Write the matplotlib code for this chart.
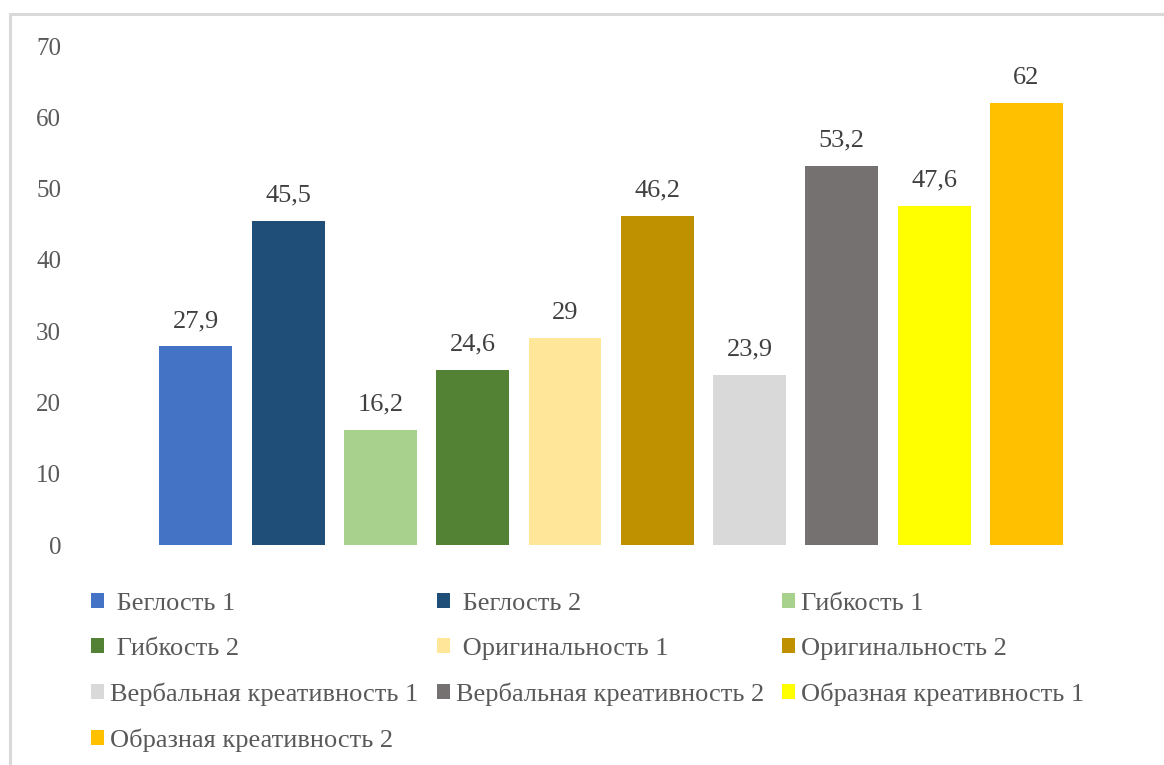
import matplotlib
matplotlib.use("Agg")
import matplotlib.pyplot as plt
from matplotlib.patches import Rectangle

# series names (Excel-style legend, some with a leading space)
labels = [" Беглость 1", " Беглость 2", "Гибкость 1",
          " Гибкость 2", " Оригинальность 1", "Оригинальность 2",
          "Вербальная креативность 1", "Вербальная креативность 2", "Образная креативность 1",
          "Образная креативность 2"]
values = [27.9, 45.5, 16.2, 24.6, 29, 46.2, 23.9, 53.2, 47.6, 62]
colors = ["#4472C4", "#1F4E79", "#A9D18E", "#548235", "#FFE699",
          "#BF9000", "#D9D9D9", "#767171", "#FFFF00", "#FFC000"]
yticks = [0, 10, 20, 30, 40, 50, 60, 70]

plt.rcParams['font.family'] = ['Liberation Serif', 'DejaVu Serif']

W, H = 1164, 765
fig = plt.figure(figsize=(W / 100, H / 100), dpi=100)
ax = fig.add_axes([75 / W, (H - 545) / H, (1150 - 75) / W, (545 - 46) / H])

bars = []
for i, (lab, v, c) in enumerate(zip(labels, values, colors)):
    b = ax.bar(i, v, width=0.79, color=c, label=lab)
    bars.append(b)
    ax.bar_label(b, labels=[f"{v:g}".replace('.', ',')], padding=10,
                 fontsize=19, color="#404040")

ax.set_ylim(0, 70)
ax.set_xlim(-1.31, 10.34)
ax.set_yticks(yticks)
ax.set_xticks([])
ax.tick_params(axis='y', length=0, pad=10, labelsize=18, labelcolor="#595959")
for s in ax.spines.values():
    s.set_visible(False)

# legend is filled row by row, matplotlib fills columns, so reorder
ncol = 3
order = [0, 3, 6, 9, 1, 4, 7, 2, 5, 8]
leg = ax.legend([bars[k] for k in order], [labels[k] for k in order],
                ncol=ncol, loc='upper left', bbox_to_anchor=(91 / W, (H - 593) / H),
                bbox_transform=fig.transFigure, frameon=False, fontsize=19,
                handlelength=0.49, handleheight=0.49, handletextpad=0.23,
                columnspacing=0.7, labelspacing=0.86, labelcolor="#595959",
                borderaxespad=0, borderpad=0)

# light chart frame
fig.add_artist(Rectangle((10 / W, -0.2), 1.2, 1.2 - 14 / H, transform=fig.transFigure,
                         fill=False, edgecolor="#D9D9D9", linewidth=2.2))

fig.savefig("out.png", dpi=100)
